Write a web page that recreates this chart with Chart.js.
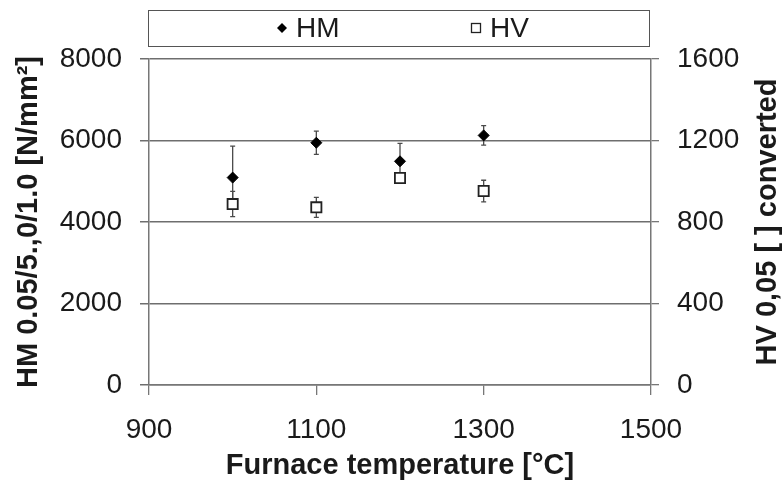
<!DOCTYPE html>
<html>
<head>
<meta charset="utf-8">
<script src="https://cdn.jsdelivr.net/npm/chart.js@4"></script>
<style>
 html,body{margin:0;padding:0;background:#fff;}
 #wrap{width:782px;height:485px;}
</style>
</head>
<body>
<div id="wrap"><canvas id="chart" width="782" height="485"></canvas></div>
<script>
// furnace temperature [°C]
const temps=[1000,1100,1200,1300];
// HM left axis, N/mm²
const hm=[5090,5945,5490,6125];
const hmErr=[770,285,440,240];
// HV right axis
const hv=[888,872,1016,952];
const hvErr=[62,49,20,53];

const xTicks=[900,1100,1300,1500];
const hmTicks=[0,2000,4000,6000,8000];
const hvTicks=[0,400,800,1200,1600];

const FONT="'Liberation Sans', Arial, sans-serif";
const INK="#1a1a1a";
const plain=(v)=>String(v);

// error bars drawn under the markers
const errorBars={
 id:"errorBars",
 beforeDatasetsDraw(c){
  const ctx=c.ctx;
  const xs=c.scales.x;
  c.data.datasets.forEach((ds)=>{
   const ys=c.scales[ds.yAxisID];
   ctx.save();
   ctx.strokeStyle="#4a4a4a";
   ctx.lineWidth=1.3;
   ds.data.forEach((p,i)=>{
    const e=ds.err[i];
    const px=xs.getPixelForValue(p.x);
    const top=ys.getPixelForValue(p.y+e);
    const bot=ys.getPixelForValue(p.y-e);
    ctx.beginPath();
    ctx.moveTo(px,top);ctx.lineTo(px,bot);
    ctx.moveTo(px-2.5,top);ctx.lineTo(px+2.5,top);
    ctx.moveTo(px-2.5,bot);ctx.lineTo(px+2.5,bot);
    ctx.stroke();
   });
   ctx.restore();
  });
 }
};

// boxed legend on top + right axis title reading bottom to top
const extras={
 id:"extras",
 afterDraw(c){
  const ctx=c.ctx;
  const a=c.chartArea;
  ctx.save();
  ctx.fillStyle="#fff";
  ctx.strokeStyle="#555";
  ctx.lineWidth=1;
  ctx.fillRect(148.5,10.5,501,36);
  ctx.strokeRect(148.5,10.5,501,36);

  ctx.fillStyle="#000";
  ctx.beginPath();
  ctx.moveTo(277,28);ctx.lineTo(282,23);ctx.lineTo(287,28);ctx.lineTo(282,33);
  ctx.closePath();ctx.fill();
  ctx.strokeStyle="#222";
  ctx.lineWidth=1.3;
  ctx.strokeRect(471.5,23.5,9,9);

  ctx.fillStyle=INK;
  ctx.font="28px "+FONT;
  ctx.textBaseline="middle";
  ctx.textAlign="left";
  ctx.fillText("HM",296,29);
  ctx.fillText("HV",490,29);

  ctx.translate(768,(a.top+a.bottom)/2);
  ctx.rotate(-Math.PI/2);
  ctx.textAlign="center";
  ctx.font="bold 29px "+FONT;
  ctx.fillText("HV 0,05 [ ] converted",0,0);
  ctx.restore();
 }
};

new Chart(document.getElementById("chart"),{
 type:"scatter",
 data:{
  datasets:[
   {
    label:"HM",
    yAxisID:"y",
    data:temps.map((t,i)=>({x:t,y:hm[i]})),
    err:hmErr,
    pointStyle:"rectRot",
    pointRadius:5.5,
    backgroundColor:"#000",
    borderColor:"#000",
    borderWidth:1
   },
   {
    label:"HV",
    yAxisID:"y1",
    data:temps.map((t,i)=>({x:t,y:hv[i]})),
    err:hvErr,
    pointStyle:"rect",
    pointRadius:7.2,
    backgroundColor:"#fff",
    borderColor:"#222",
    borderWidth:1.8
   }
  ]
 },
 options:{
  responsive:false,
  animation:false,
  layout:{padding:{top:59,left:0,right:0,bottom:0}},
  plugins:{legend:{display:false},tooltip:{enabled:false}},
  scales:{
   x:{
    type:"linear",
    min:900,max:1500,
    afterBuildTicks:(s)=>{s.ticks=xTicks.map(v=>({value:v}));},
    afterFit:(s)=>{s.height=100;},
    grid:{drawOnChartArea:false,drawTicks:true,tickLength:10,color:"#777",lineWidth:1.3},
    border:{color:"#777",width:1.5},
    ticks:{color:INK,font:{family:FONT,size:28},padding:18,maxRotation:0,callback:plain},
    title:{display:true,text:"Furnace temperature [°C]",color:INK,
     font:{family:FONT,size:29,weight:"bold"},padding:{top:0,bottom:2}}
   },
   y:{
    position:"left",
    min:0,max:8000,
    afterBuildTicks:(s)=>{s.ticks=hmTicks.map(v=>({value:v}));},
    afterFit:(s)=>{s.width=149;},
    grid:{color:"#6e6e6e",lineWidth:1.5,drawTicks:true,tickLength:9},
    border:{color:"#777",width:1.5},
    ticks:{color:INK,font:{family:FONT,size:28},padding:18,callback:plain},
    title:{display:true,text:"HM 0.05/5.,0/1.0 [N/mm²]",color:INK,
     font:{family:FONT,size:29,weight:"bold"},padding:{top:12,bottom:0}}
   },
   y1:{
    position:"right",
    min:0,max:1600,
    afterBuildTicks:(s)=>{s.ticks=hvTicks.map(v=>({value:v}));},
    afterFit:(s)=>{s.width=131;},
    grid:{drawOnChartArea:false,drawTicks:true,tickLength:8,color:"#777",lineWidth:1.3},
    border:{color:"#777",width:1.5},
    ticks:{color:INK,font:{family:FONT,size:28},padding:18,callback:plain}
   }
  }
 },
 plugins:[errorBars,extras]
});
</script>
</body>
</html>
